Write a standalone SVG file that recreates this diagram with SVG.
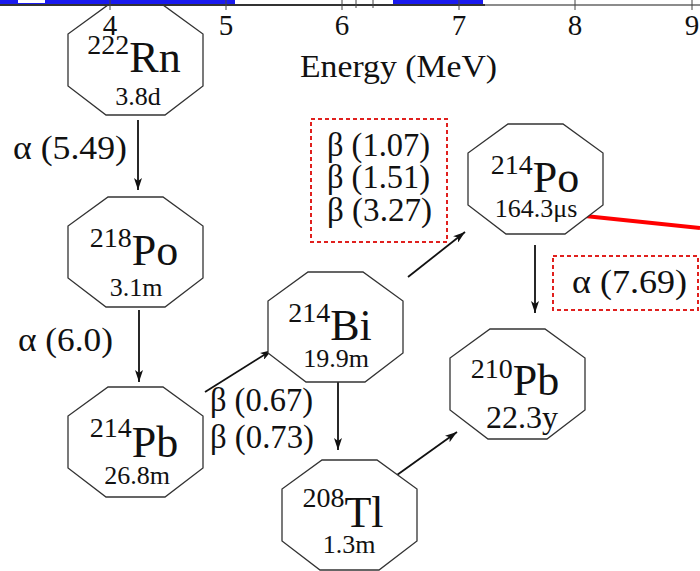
<svg xmlns="http://www.w3.org/2000/svg" width="700" height="571" viewBox="0 0 700 571">
<style>
text{font-family:"Liberation Serif","Times New Roman",serif;fill:#111}
.oct{fill:#fff;stroke:#333;stroke-width:1.3}
.sup{font-size:28px}
.el{font-size:44px}
.hl{font-size:26px}
.lbl{font-size:33px}
.ax{font-size:29px;text-anchor:middle}
.conn{stroke:#111;stroke-width:1.8;fill:none;marker-end:url(#ah)}
.box{fill:none;stroke:#e0201e;stroke-width:2;stroke-dasharray:4 3}
</style>
<defs>
<polygon id="octp" points="40,0 95,0 135,29 135,81 97,110 38,110 0,81 0,29"/>
<marker id="ah" viewBox="0 0 12 8" refX="12" refY="4" markerWidth="12" markerHeight="8" markerUnits="userSpaceOnUse" orient="auto">
<path d="M0,0 L12,4 L0,8 L3,4 Z" fill="#111"/>
</marker>
</defs>
<line id="redline" x1="585" y1="216" x2="700" y2="228" stroke="#ff0000" stroke-width="4"/>
<g id="connectors">
<line class="conn" x1="138" y1="120" x2="138" y2="190"/>
<line class="conn" x1="139" y1="310" x2="139" y2="382"/>
<line class="conn" x1="205" y1="392" x2="272" y2="350"/>
<line class="conn" x1="338" y1="382" x2="338" y2="450"/>
<line class="conn" x1="408" y1="277" x2="465" y2="232"/>
<line class="conn" x1="535" y1="245" x2="535" y2="313"/>
<line class="conn" x1="397" y1="475" x2="457" y2="432"/>
</g>
<g id="labels">
<text class="lbl" x="13" y="159" textLength="114" lengthAdjust="spacingAndGlyphs">α (5.49)</text>
<text class="lbl" x="18" y="351" textLength="95" lengthAdjust="spacingAndGlyphs">α (6.0)</text>
<text class="lbl" x="210" y="411" textLength="103" lengthAdjust="spacingAndGlyphs">β (0.67)</text>
<text class="lbl" x="210" y="448" textLength="104" lengthAdjust="spacingAndGlyphs">β (0.73)</text>
</g>
<g id="beta-box">
<rect class="box" x="311" y="119" width="136" height="123"/>
<text class="lbl" x="327" y="156" textLength="103" lengthAdjust="spacingAndGlyphs">β (1.07)</text>
<text class="lbl" x="327" y="188" textLength="103" lengthAdjust="spacingAndGlyphs">β (1.51)</text>
<text class="lbl" x="327" y="221" textLength="105" lengthAdjust="spacingAndGlyphs">β (3.27)</text>
</g>
<g id="alpha-box">
<rect class="box" x="553" y="256" width="145" height="54"/>
<text class="lbl" x="572" y="293" textLength="115" lengthAdjust="spacingAndGlyphs">α (7.69)</text>
</g>
<g id="Rn222">
<use href="#octp" class="oct" x="68" y="5"/>
<text x="134" y="72" text-anchor="middle"><tspan class="sup" dy="-18">222</tspan><tspan class="el" dy="18">Rn</tspan></text>
<text class="hl" x="138" y="105" text-anchor="middle">3.8d</text>
</g>
<g id="Po218">
<use href="#octp" class="oct" x="68" y="197"/>
<text x="134" y="265" text-anchor="middle"><tspan class="sup" dy="-18">218</tspan><tspan class="el" dy="18">Po</tspan></text>
<text class="hl" x="136" y="296" text-anchor="middle">3.1m</text>
</g>
<g id="Pb214">
<use href="#octp" class="oct" x="68" y="387"/>
<text x="134" y="457" text-anchor="middle"><tspan class="sup" dy="-20">214</tspan><tspan class="el" dy="20">Pb</tspan></text>
<text class="hl" x="137" y="484" text-anchor="middle">26.8m</text>
</g>
<g id="Bi214">
<use href="#octp" class="oct" x="268" y="272"/>
<text x="330" y="340" text-anchor="middle"><tspan class="sup" dy="-18">214</tspan><tspan class="el" dy="18">Bi</tspan></text>
<text class="hl" x="336" y="367" text-anchor="middle">19.9m</text>
</g>
<g id="Tl208">
<use href="#octp" class="oct" x="282" y="460"/>
<text x="343" y="527" text-anchor="middle"><tspan class="sup" dy="-20">208</tspan><tspan class="el" dy="20">Tl</tspan></text>
<text class="hl" x="349" y="553" text-anchor="middle">1.3m</text>
</g>
<g id="Pb210">
<use href="#octp" class="oct" x="450" y="329"/>
<text x="515" y="395" text-anchor="middle"><tspan class="sup" dy="-17">210</tspan><tspan class="el" dy="17">Pb</tspan></text>
<text x="522" y="428" text-anchor="middle" style="font-size:32px">22.3y</text>
</g>
<g id="Po214">
<use href="#octp" class="oct" x="468" y="124"/>
<text x="535" y="192" text-anchor="middle"><tspan class="sup" dy="-18">214</tspan><tspan class="el" dy="18">Po</tspan></text>
<text class="hl" x="536" y="217" text-anchor="middle">164.3μs</text>
</g>
<g id="axis">
<rect x="0" y="0" width="235" height="4" fill="#1a1aee"/>
<rect x="18" y="0" width="27" height="3" fill="#fff"/>
<rect x="393" y="0" width="90" height="4" fill="#1a1aee"/>
<line x1="0" y1="5" x2="485" y2="5" stroke="#333" stroke-width="2"/>
<line x1="485" y1="5" x2="700" y2="5" stroke="#666" stroke-width="1.5"/>
<g stroke="#444" stroke-width="1">
<line x1="110" y1="0" x2="110" y2="10"/><line x1="226" y1="0" x2="226" y2="10"/><line x1="342" y1="0" x2="342" y2="10"/><line x1="356" y1="0" x2="356" y2="8"/><line x1="373" y1="0" x2="373" y2="8"/><line x1="459" y1="0" x2="459" y2="10"/><line x1="575" y1="0" x2="575" y2="10"/><line x1="692" y1="0" x2="692" y2="10"/>
</g>
<text class="ax" x="110" y="35">4</text><text class="ax" x="226" y="35">5</text><text class="ax" x="342" y="35">6</text><text class="ax" x="459" y="35">7</text><text class="ax" x="575" y="35">8</text><text class="ax" x="692" y="35">9</text>
<text x="300" y="77" style="font-size:32px" textLength="197" lengthAdjust="spacingAndGlyphs">Energy (MeV)</text>
</g>
</svg>
